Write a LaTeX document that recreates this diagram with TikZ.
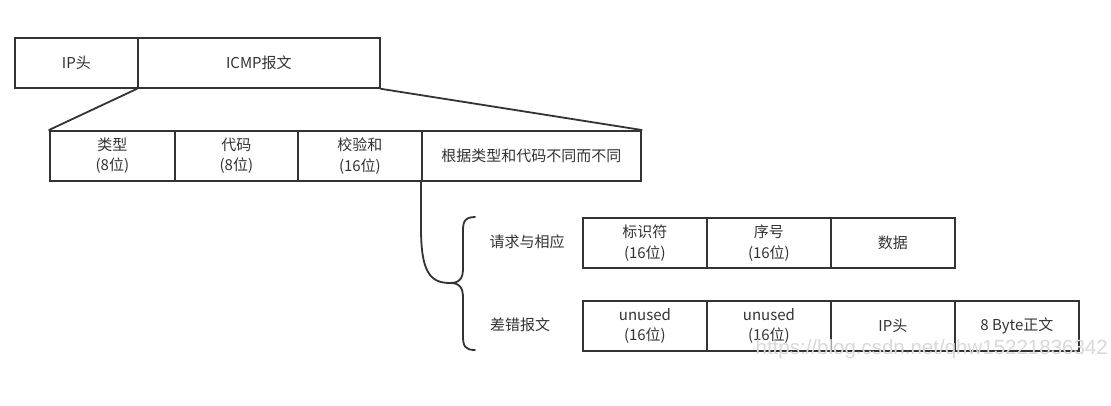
\documentclass[tikz,border=0pt]{standalone}
\usepackage{fontspec}
\setmainfont{Noto Sans CJK SC}
\newfontfamily\wmfont{Liberation Sans}
\definecolor{ink}{HTML}{333333}
\definecolor{wm}{HTML}{D9D9D9}
\begin{document}
\begin{tikzpicture}[x=1pt,y=-1pt,
  cell/.style={draw=ink, line width=1.8pt, minimum height=50pt, inner sep=0pt,
    anchor=north west, align=center, text=ink, font=\fontsize{15}{20.5}\selectfont},
  lbl/.style={text=ink, font=\fontsize{15}{20.5}\selectfont, inner sep=0pt},
  link/.style={draw=ink, line width=1.8pt, line join=round, line cap=round}]
\useasboundingbox (0,0) rectangle (1111,405);
\fill[white] (0,0) rectangle (1111,405);
% top row
\node[cell, minimum width=123pt] (ip) at (14,37) {IP头};
\node[cell, minimum width=242pt] (icmp) at (137,37) {ICMP报文};
% second row
\node[cell, minimum width=125pt] (type) at (49,130) {类型\\(8位)};
\node[cell, minimum width=123pt] (code) at (174,130) {代码\\(8位)};
\node[cell, minimum width=124pt] (chk) at (297,130) {校验和\\(16位)};
\node[cell, minimum width=219pt] (var) at (421,130) {根据类型和代码不同而不同};
% zoom lines
\draw[link] (icmp.south west) -- (type.north west);
\draw[link] (icmp.south east) -- (var.north east);
% brace
\coordinate (btop) at (475,217);
\coordinate (bmid) at (450,283);
\coordinate (bbot) at (475,350);
\draw[link] (btop) .. controls (463,217) and (463,224) .. (463,232)
  -- (463,268) .. controls (463,278) and (460,283) .. (bmid)
  .. controls (460,283) and (463,288) .. (463,298)
  -- (463,336) .. controls (463,346) and (465,350) .. (bbot);
\draw[link] (var.south west) -- (421,228) .. controls (421,272) and (430,283) .. (bmid);
% labels
\node[lbl] (req) at (527,242) {请求与相应};
\node[lbl] (err) at (520,325) {差错报文};
% third row
\node[cell, minimum width=124pt] (id) at (582,217) {标识符\\(16位)};
\node[cell, minimum width=124pt] (seq) at (706,217) {序号\\(16位)};
\node[cell, minimum width=124pt] (data) at (830,217) {数据};
% fourth row
\node[cell, minimum width=124pt] (u1) at (582,300) {unused\\(16位)};
\node[cell, minimum width=124pt] (u2) at (706,300) {unused\\(16位)};
\node[cell, minimum width=124pt] (iph) at (830,300) {IP头};
\node[cell, minimum width=124pt] (body) at (954,300) {8 Byte正文};
% watermark
\node[text=wm, font=\wmfont\fontsize{20.5}{20.5}\selectfont, inner sep=0pt, anchor=east] (mark) at (1108,349) {https://blog.csdn.net/qhw15221836342};
\end{tikzpicture}
\end{document}
